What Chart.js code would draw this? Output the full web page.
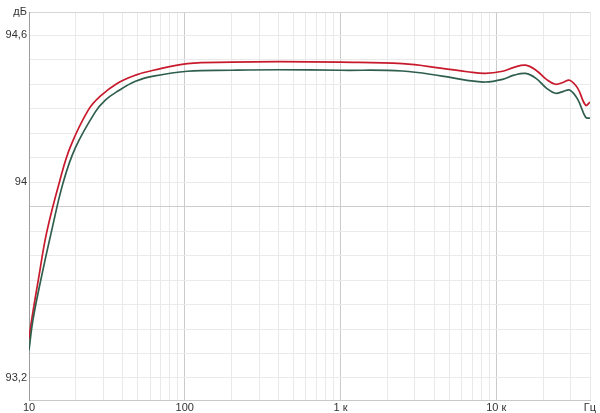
<!DOCTYPE html>
<html>
<head>
<meta charset="utf-8">
<script src="https://cdn.jsdelivr.net/npm/chart.js@4"></script>
<style>
  html, body { margin: 0; padding: 0; background: #fff; }
  canvas { display: block; }
</style>
</head>
<body>
<canvas id="chart" width="600" height="413"></canvas>
<script>
// ---- data (Hz / dB) ----
const redFreq = [10, 10.4, 11.5, 13, 15.8, 18.4, 24, 28.7, 37, 48.3, 63, 104, 200, 400, 1000, 2500, 4500, 6500, 8500, 11000, 13000, 15400, 18000, 21000, 24000, 27000, 29600, 33300, 37500, 40000];
const redDb = [93.359, 93.437, 93.604, 93.796, 94.008, 94.143, 94.294, 94.351, 94.404, 94.437, 94.457, 94.484, 94.49, 94.492, 94.49, 94.484, 94.465, 94.451, 94.444, 94.453, 94.469, 94.478, 94.457, 94.42, 94.4, 94.408, 94.416, 94.384, 94.314, 94.327];

const greenFreq = [10, 10.6, 11.9, 14, 16.6, 19.8, 26.6, 30.9, 37, 48.3, 63, 104, 200, 400, 1000, 2500, 4500, 6500, 8500, 11000, 13000, 15400, 18000, 21000, 24000, 27000, 29600, 33300, 37500, 40000];
const greenDb = [93.314, 93.437, 93.6, 93.804, 94.0, 94.139, 94.286, 94.335, 94.371, 94.412, 94.433, 94.453, 94.457, 94.459, 94.457, 94.454, 94.433, 94.416, 94.409, 94.42, 94.437, 94.444, 94.424, 94.384, 94.363, 94.371, 94.376, 94.339, 94.265, 94.261];

// axis ticks
const xTicks = [10, 20, 30, 40, 50, 60, 70, 80, 90,
                100, 200, 300, 400, 500, 600, 700, 800, 900,
                1000, 2000, 3000, 4000, 5000, 6000, 7000, 8000, 9000,
                10000, 20000, 30000, 40000];
const xLabels = { 10: '10', 100: '100', 1000: '1 к', 10000: '10 к', 40000: 'Гц' };
const yMin = 93.11, yMax = 94.695;
const yTicks = [93.2, 93.3, 93.4, 93.5, 93.6, 93.7, 93.8, 93.9, 94.0, 94.1, 94.2, 94.3, 94.4, 94.5, 94.6, yMax];
const yLabels = { 932: '93,2', 940: '94', 946: '94,6' };

const toPts = (xs, ys) => xs.map((f, i) => ({ x: f, y: ys[i] }));

const isDecade = v => Math.abs(Math.log10(v) - Math.round(Math.log10(v))) < 1e-9;

new Chart(document.getElementById('chart'), {
    type: 'line',
    data: {
        datasets: [
            { data: toPts(greenFreq, greenDb), borderColor: '#2f5e4c', borderWidth: 1.7, pointRadius: 0, tension: 0.4 },
            { data: toPts(redFreq, redDb), borderColor: '#c81a2c', borderWidth: 1.7, pointRadius: 0, tension: 0.4 }
        ]
    },
    options: {
        responsive: false,
        animation: false,
        layout: { padding: { top: 12, right: 10, left: 0, bottom: 0 } },
        plugins: { legend: { display: false }, tooltip: { enabled: false } },
        scales: {
            x: {
                type: 'logarithmic',
                min: 10, max: 40000,
                afterBuildTicks: s => { s.ticks = xTicks.map(v => ({ value: v })); },
                afterFit: s => { s.height = 13; },
                grid: {
                    drawTicks: false,
                    color: c => (c.tick && isDecade(c.tick.value)) ? '#cbcbcb' : '#e9e9e9'
                },
                border: { color: '#c8c8c8' },
                ticks: {
                    autoSkip: false, maxRotation: 0, padding: 1,
                    font: { family: 'Liberation Sans, Arial, sans-serif', size: 11 },
                    color: '#333',
                    callback: v => xLabels[v] || ''
                }
            },
            y: {
                min: yMin, max: yMax,
                afterBuildTicks: s => { s.ticks = yTicks.map(v => ({ value: v })); },
                afterFit: s => { s.width = 29; },
                grid: {
                    drawTicks: false,
                    color: c => {
                        const v = c.tick ? c.tick.value : 0;
                        if (Math.abs(v - 93.9) < 1e-6) return '#cdcdcd';
                        if (v === yMax) return '#d6d6d6';
                        return '#eaeaea';
                    }
                },
                border: { color: '#9c9c9c' },
                ticks: {
                    padding: 2,
                    font: { family: 'Liberation Sans, Arial, sans-serif', size: 11 },
                    color: '#333',
                    callback: v => v === yMax ? 'дБ' : (yLabels[Math.round(v * 10)] || '')
                }
            }
        }
    }
});
</script>
</body>
</html>
